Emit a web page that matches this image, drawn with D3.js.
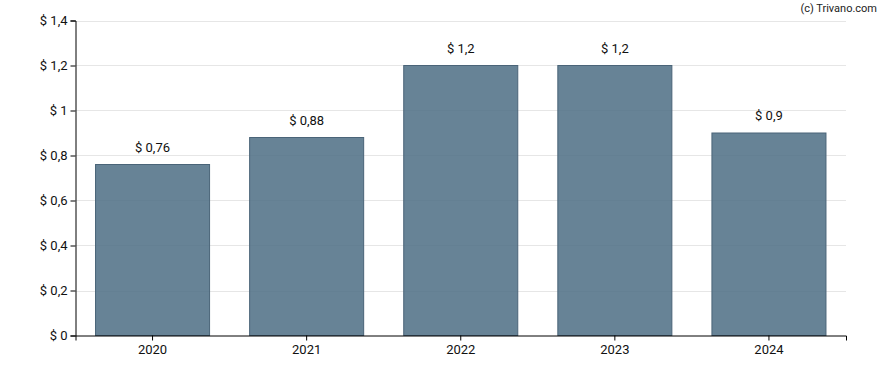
<!DOCTYPE html>
<html><head><meta charset="utf-8">
<script src="https://cdn.jsdelivr.net/npm/d3@7"></script>
<style>body{margin:0;background:#fff}svg{display:block;font-family:Roboto,Arial,sans-serif}</style>
</head><body><svg id="c" width="888" height="370"></svg>
<script>
const categories = ["2020","2021","2022","2023","2024"];
const values = [0.76, 0.88, 1.2, 1.2, 0.9];
const labels = ["$ 0,76","$ 0,88","$ 1,2","$ 1,2","$ 0,9"];
const yTicks = [0,0.2,0.4,0.6,0.8,1,1.2,1.4];
const fmt = v => "$ " + String(+v.toFixed(2)).replace(".", ",");

const svg = d3.select("#c");
const L=75.5, R=846, T=20.5, B=335.5;
const x = d3.scaleBand().domain(categories).range([L,R]).paddingInner(0.26).paddingOuter(0.13);
const y = d3.scaleLinear().domain([0,1.4]).range([B,T]);

svg.append("g").selectAll("line").data(yTicks.slice(1)).join("line")
  .attr("x1",L).attr("x2",R).attr("y1",d=>Math.round(y(d))+0.5).attr("y2",d=>Math.round(y(d))+0.5)
  .attr("stroke","#e6e6e6").attr("stroke-width",1);

svg.append("g").selectAll("rect").data(values).join("rect")
  .attr("x",(d,i)=>x(categories[i])).attr("width",x.bandwidth())
  .attr("y",d=>y(d)).attr("height",d=>B-y(d))
  .attr("fill","rgba(82,114,135,0.88)").attr("stroke","#4a6478").attr("stroke-width",1);

svg.append("g").selectAll("text").data(values).join("text")
  .attr("x",(d,i)=>x(categories[i])+x.bandwidth()/2).attr("y",d=>y(d)-13)
  .attr("text-anchor","middle").attr("font-size",13).attr("fill","#111").text((d,i)=>labels[i]);

const ya = svg.append("g").attr("transform",`translate(${L},0)`)
  .call(d3.axisLeft(y).tickValues(yTicks).tickFormat(fmt).tickSize(5).tickPadding(3));
const xa = svg.append("g").attr("transform",`translate(0,${B})`)
  .call(d3.axisBottom(x).tickSize(5).tickPadding(4));
[ya,xa].forEach(a=>{a.selectAll("path,line").attr("stroke","#000");a.selectAll("text").attr("font-size",13).attr("fill","#111").attr("font-family","Roboto,Arial,sans-serif");});

svg.append("text").attr("x",877).attr("y",12).attr("text-anchor","end").attr("font-size",11).attr("fill","#222").text("(c) Trivano.com");
</script></body></html>
